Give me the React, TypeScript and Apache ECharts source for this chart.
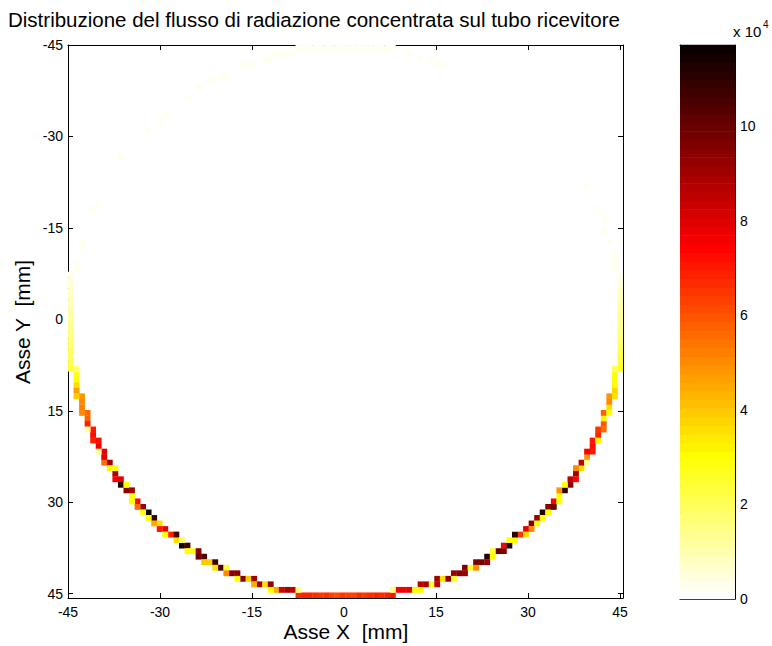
import React, { useEffect, useRef } from "react";
import * as echarts from "echarts";

// ---- axes / ticks ----
const xTicks = [-45, -30, -15, 0, 15, 30, 45];
const yTicks = [-45, -30, -15, 0, 15, 30, 45];
const colorbarTicks = [0, 2, 4, 6, 8, 10];
const X_RANGE = [-45, 45.5];
const Y_RANGE = [-45, 45.7];
const FLUX_MAX = 11.72; // colour scale top, in units of 10^4

// ---- flux on the receiver tube ring (x 10^4), read along the ring ----
// lower half: left middle -> down along the left wall (rows 50..84)
const lowerLeftFlux = [
  1.35, 1.45, 1.55, 1.65, 1.75, 1.85, 1.95, 2.1, 2.3, 2.6,
  3.0, 3.6, 4.6, 4.8, 5.0, 5.3, 5.6, 5.8, 6.8, 7.0,
  7.2, 7.3, 7.6, 7.8, 8.0, 9.0, 3.2, 8.8, 7.8, 11.2,
  9.5, 3.0, 7.2, 9.2, 11.5,
];
// bottom arc, left -> right (columns 15..84)
const bottomFlux = [
  10.8, 3.5, 7.8, 6.8, 3.5, 11.5, 10.8, 3.0, 10.0, 10.4,
  4.0, 10.8, 10.5, 2.5, 9.5, 9.5, 9.4, 4.0, 9.0, 9.0,
  3.5, 9.2, 4.5, 8.3, 8.8, 8.5, 6.6, 6.8, 6.9, 6.7,
  6.5, 6.6, 6.4, 6.2, 6.5, 6.4, 6.3, 6.6, 6.5, 6.7,
  6.8, 6.6, 6.9, 7.0, 7.6, 7.6, 7.8, 3.0, 8.5, 8.8,
  2.5, 9.0, 3.5, 9.3, 9.3, 9.5, 9.6, 2.5, 9.8, 9.8,
  11.0, 3.0, 10.0, 7.5, 11.2, 3.0, 6.5, 7.8, 9.6, 9.2,
];
// right wall, bottom -> middle (rows 84..50)
const lowerRightFlux = [
  11.3, 9.6, 7.5, 3.0, 11.0, 9.5, 8.5, 9.0, 3.5, 8.5,
  4.8, 7.5, 7.3, 7.0, 6.8, 6.5, 6.0, 3.2, 5.8, 3.5,
  5.0, 4.8, 3.8, 3.0, 3.0, 2.9, 2.7, 2.5, 2.3, 2.1,
  1.9, 1.8, 1.6, 1.5, 1.4,
];
// second cell at each stair step of the lower half, left -> right
const lowerStepFlux = [
  1.8, 4.0, 5.0, 1.2, 6.8, 1.2, 5.5, 3.0, 7.5, 3.0, 9.0, 3.0, 5.5, 3.0,
  3.0,
  4.5, 7.0, 3.0, 10.5, 2.0, 3.0, 9.5, 4.0, 3.5, 5.0, 3.0, 4.5, 3.0, 1.5,
  1.5, 3.0, 8.5, 2.5, 9.0, 5.0, 9.3, 2.5, 9.6, 3.0, 11.0, 3.5, 5.0, 3.0,
  3.0,
  3.0, 10.0, 3.0, 4.8, 3.0, 7.5, 5.0, 1.2, 7.0, 3.2, 5.5, 3.0, 3.5, 2.0,
];
// upper half: right wall, middle -> up (rows 49..15)
const upperRightFlux = [
  1.3, 1.2, 1.1, 1.0, 0.9, 0.75, 0.65, 0.5, 0.35, 0.3,
  0.25, 0.2, 0.2, 0, 0.2, 0, 0.2, 0, 0.2, 0,
  0.2, 0, 0, 0, 0.2, 0, 0, 0, 0, 0,
  0, 0, 0, 0, 0,
];
// top arc, right -> left (columns 84..15)
const topFlux = [
  0, 0, 0, 0, 0, 0, 0, 0, 0, 0,
  0, 0, 0, 0, 0, 0, 0, 0.2, 0.2, 0.2,
  0, 0.2, 0, 0.2, 0, 0, 0.2, 0.2, 0.2, 0.2,
  0.25, 0.25, 0.25, 0.25, 0.25, 0.25, 0.25, 0.25, 0.25, 0.25,
  0.25, 0.25, 0.25, 0.25, 0.25, 0.25, 0.25, 0.2, 0.2, 0.2,
  0, 0.2, 0.2, 0.2, 0, 0, 0.2, 0.2, 0.2, 0.2,
  0, 0.2, 0, 0.2, 0, 0, 0, 0.2, 0.2, 0,
];
// left wall, top -> middle (rows 15..49)
const upperLeftFlux = [
  0.2, 0, 0, 0, 0, 0.2, 0, 0, 0, 0,
  0, 0, 0, 0.2, 0.2, 0, 0, 0, 0, 0,
  0.2, 0.2, 0, 0, 0.25,
  0.3, 0.35, 0.45, 0.55, 0.65, 0.75, 0.85, 0.95, 1.1, 1.2,
];

// ---- geometry of the 100 x 100 image grid ----
const NCELL = 100;
const SX = (X_RANGE[1] - X_RANGE[0]) / NCELL;
const SY = (Y_RANGE[1] - Y_RANGE[0]) / NCELL;
const CIDX = 49.5;
const RIDX = 49.8;

function buildCells(): number[][] {
  const lim = RIDX / Math.SQRT2;
  const off = (d: number) => Math.sqrt(Math.max(0, RIDX * RIDX - d * d));
  const pick = (arr: number[], k: number, n: number) =>
    arr[Math.min(arr.length - 1, Math.floor((k * arr.length) / n))];
  const lowerRows: number[] = [];
  const upperRows: number[] = [];
  const flatCols: number[] = [];
  for (let k = 0; k < NCELL; k++) {
    if (k > CIDX && k - CIDX <= lim) lowerRows.push(k);
    if (k < CIDX && CIDX - k <= lim) upperRows.push(k);
    if (Math.abs(k - CIDX) <= lim) flatCols.push(k);
  }
  const lower: number[][] = [];
  lowerRows.forEach((j, k) => lower.push([Math.max(0, Math.round(CIDX - off(j - CIDX))), j, pick(lowerLeftFlux, k, lowerRows.length)]));
  flatCols.forEach((i, k) => lower.push([i, Math.round(CIDX + off(i - CIDX)), pick(bottomFlux, k, flatCols.length)]));
  const lrDesc = lowerRows.slice().reverse();
  lrDesc.forEach((j, k) => lower.push([Math.round(CIDX + off(j - CIDX)), j, pick(lowerRightFlux, k, lrDesc.length)]));

  // stair-step cells between diagonal neighbours of the lower half
  const steps: number[][] = [];
  const ringErr = (i: number, j: number) => Math.abs(Math.hypot(i - CIDX, j - CIDX) - RIDX);
  for (let k = 1; k < lower.length; k++) {
    const a = lower[k - 1], b = lower[k];
    if (Math.abs(a[0] - b[0]) === 1 && Math.abs(a[1] - b[1]) === 1) {
      const c1 = [a[0], b[1]], c2 = [b[0], a[1]];
      steps.push(ringErr(c1[0], c1[1]) <= ringErr(c2[0], c2[1]) ? c1 : c2);
    }
  }
  steps.forEach((s, k) => s.push(pick(lowerStepFlux, k, steps.length)));

  const upper: number[][] = [];
  const urDesc = upperRows.slice().reverse();
  urDesc.forEach((j, k) => upper.push([Math.round(CIDX + off(j - CIDX)), j, pick(upperRightFlux, k, urDesc.length)]));
  const fcDesc = flatCols.slice().reverse();
  fcDesc.forEach((i, k) => upper.push([i, Math.max(0, Math.round(CIDX - off(i - CIDX))), pick(topFlux, k, fcDesc.length)]));
  upperRows.forEach((j, k) => upper.push([Math.max(0, Math.round(CIDX - off(j - CIDX))), j, pick(upperLeftFlux, k, upperRows.length)]));

  return [...lower, ...steps, ...upper]
    .filter((c) => c[2] > 0)
    .map((c) => [X_RANGE[0] + (c[0] + 0.5) * SX, Y_RANGE[0] + (c[1] + 0.5) * SY, c[2]]);
}

// flipped MATLAB "hot" colormap, 64 levels
function hotColor(v: number): string {
  let c = Math.floor((v / FLUX_MAX) * 64);
  c = Math.max(0, Math.min(63, c));
  const m = 63 - c;
  const r = Math.min(1, (m + 1) / 24);
  const g = Math.max(0, Math.min(1, (m + 1 - 24) / 24));
  const b = Math.max(0, Math.min(1, (m + 1 - 48) / 16));
  return `rgb(${Math.round(r * 255)},${Math.round(g * 255)},${Math.round(b * 255)})`;
}

const FONT = "Liberation Sans, Arial, sans-serif";
const inList = (list: number[]) => (v: number) =>
  list.some((t) => Math.abs(t - v) < 1e-6) ? String(Math.round(v)) : "";

export default function App() {
  const ref = useRef<HTMLDivElement>(null);
  useEffect(() => {
    if (!ref.current) return;
    const chart = echarts.init(ref.current, null, { renderer: "svg" });
    const cells = buildCells();
    const levels = Array.from({ length: 64 }, (_, k) => [k]);
    const axisLine = { show: true, onZero: false, lineStyle: { color: "#000", width: 1 } };
    const tick = { show: true, inside: true, length: 5, lineStyle: { color: "#000", width: 1 } };
    const label = { color: "#000", fontSize: 14, fontFamily: FONT };
    chart.setOption({
      animation: false,
      backgroundColor: "#fff",
      grid: [
        { left: 68, top: 45, width: 555, height: 553 },
        { left: 680, top: 45, width: 55, height: 554 },
      ],
      xAxis: [
        { gridIndex: 0, type: "value", position: "bottom", min: X_RANGE[0], max: X_RANGE[1], interval: 15,
          axisLine, axisTick: tick, splitLine: { show: false },
          axisLabel: { ...label, margin: 7, formatter: inList(xTicks) } },
        { gridIndex: 0, type: "value", position: "top", min: X_RANGE[0], max: X_RANGE[1], interval: 15,
          axisLine, axisTick: tick, splitLine: { show: false }, axisLabel: { show: false } },
        { gridIndex: 1, type: "value", position: "bottom", min: 0, max: 1,
          axisLine, axisTick: { show: false }, splitLine: { show: false }, axisLabel: { show: false } },
        { gridIndex: 1, type: "value", position: "top", min: 0, max: 1,
          axisLine, axisTick: { show: false }, splitLine: { show: false }, axisLabel: { show: false } },
      ],
      yAxis: [
        { gridIndex: 0, type: "value", position: "left", inverse: true, min: Y_RANGE[0], max: Y_RANGE[1], interval: 15,
          axisLine, axisTick: tick, splitLine: { show: false },
          axisLabel: { ...label, margin: 5, formatter: inList(yTicks) } },
        { gridIndex: 0, type: "value", position: "right", inverse: true, min: Y_RANGE[0], max: Y_RANGE[1], interval: 15,
          axisLine, axisTick: tick, splitLine: { show: false }, axisLabel: { show: false } },
        { gridIndex: 1, type: "value", position: "right", min: 0, max: FLUX_MAX, interval: 2,
          axisLine, axisTick: tick, splitLine: { show: false },
          axisLabel: { ...label, margin: 5, formatter: inList(colorbarTicks) } },
        { gridIndex: 1, type: "value", position: "left", min: 0, max: FLUX_MAX, interval: 2,
          axisLine, axisTick: tick, splitLine: { show: false }, axisLabel: { show: false } },
      ],
      series: [
        {
          type: "custom",
          xAxisIndex: 0,
          yAxisIndex: 0,
          clip: true,
          data: cells,
          encode: { x: 0, y: 1 },
          z: 1,
          renderItem: (params: any, api: any) => {
            const x = api.value(0), y = api.value(1), v = api.value(2);
            const p0 = api.coord([x - SX / 2, y - SY / 2]);
            const p1 = api.coord([x + SX / 2, y + SY / 2]);
            return {
              type: "rect",
              shape: {
                x: Math.min(p0[0], p1[0]),
                y: Math.min(p0[1], p1[1]),
                width: Math.abs(p1[0] - p0[0]) + 0.3,
                height: Math.abs(p1[1] - p0[1]) + 0.3,
              },
              style: { fill: hotColor(v) },
            };
          },
        },
        {
          type: "custom",
          xAxisIndex: 2,
          yAxisIndex: 2,
          data: levels,
          encode: { y: 0 },
          z: 1,
          renderItem: (params: any, api: any) => {
            const k = api.value(0);
            const p0 = api.coord([0, (k * FLUX_MAX) / 64]);
            const p1 = api.coord([1, ((k + 1) * FLUX_MAX) / 64]);
            return {
              type: "rect",
              shape: {
                x: Math.min(p0[0], p1[0]),
                y: Math.min(p0[1], p1[1]) - 0.3,
                width: Math.abs(p1[0] - p0[0]),
                height: Math.abs(p1[1] - p0[1]) + 0.6,
              },
              style: { fill: hotColor(((k + 0.5) * FLUX_MAX) / 64) },
            };
          },
        },
      ],
      graphic: [
        { type: "text", left: 8, top: 9, style: { text: "Distribuzione del flusso di radiazione concentrata sul tubo ricevitore",
            fill: "#000", fontSize: 20.5, fontFamily: FONT } },
        { type: "text", x: 346, y: 631, style: { text: "Asse X  [mm]", fill: "#000", fontSize: 21, fontFamily: FONT,
            align: "center", verticalAlign: "middle" } },
        { type: "text", x: 22, y: 322, rotation: Math.PI / 2, style: { text: "Asse Y  [mm]", fill: "#000", fontSize: 21,
            fontFamily: FONT, align: "center", verticalAlign: "middle" } },
        { type: "text", x: 733, y: 24, style: { text: "x 10", fill: "#000", fontSize: 15, fontFamily: FONT } },
        { type: "text", x: 763, y: 19, style: { text: "4", fill: "#000", fontSize: 10, fontFamily: FONT } },
      ],
    });
    return () => chart.dispose();
  }, []);
  return <div ref={ref} style={{ position: "fixed", left: 0, top: 0, width: 772, height: 646 }} />;
}
